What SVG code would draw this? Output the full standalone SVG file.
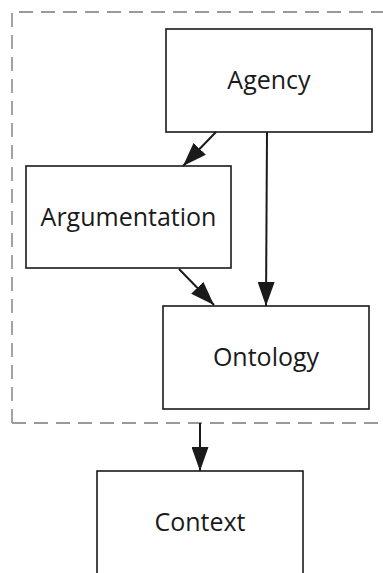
<svg xmlns="http://www.w3.org/2000/svg" width="383" height="573" viewBox="0 0 383 573">
  <style>
    .box { fill: #ffffff; stroke: #1a1a1a; stroke-width: 1.6; }
    .label { font-family: "Open Sans", "Liberation Sans", sans-serif; font-size: 25px; fill: #1a1a1a; text-anchor: middle; }
    .edge { stroke: #1a1a1a; stroke-width: 2; fill: none; marker-end: url(#arrow); }
    .frame { fill: none; stroke: #9a9a9a; stroke-width: 1.8; stroke-dasharray: 14 8; }
  </style>
  <defs>
    <marker id="arrow" viewBox="0 0 24 17" refX="24" refY="8.5" markerWidth="24" markerHeight="17" markerUnits="userSpaceOnUse" orient="auto">
      <path d="M0,0 L24,8.5 L0,17 Z" fill="#1a1a1a"/>
    </marker>
  </defs>

  <!-- dashed system boundary -->
  <path class="frame" d="M12,423 V12 H390"/>
  <path class="frame" d="M12,423 H390"/>

  <g id="agency">
    <rect class="box" x="166" y="29" width="206" height="103"/>
    <text class="label" x="269" y="89">Agency</text>
  </g>
  <g id="argumentation">
    <rect class="box" x="26" y="166" width="205" height="102"/>
    <text class="label" x="128.5" y="226">Argumentation</text>
  </g>
  <g id="ontology">
    <rect class="box" x="163" y="306" width="206" height="103"/>
    <text class="label" x="266" y="366">Ontology</text>
  </g>
  <g id="context">
    <rect class="box" x="97" y="471" width="206" height="110"/>
    <text class="label" x="200" y="531">Context</text>
  </g>

  <g id="connectors">
    <line class="edge" x1="216" y1="132" x2="183" y2="166"/>
    <line class="edge" x1="267" y1="132" x2="266" y2="306"/>
    <line class="edge" x1="179" y1="269" x2="214" y2="305"/>
    <line class="edge" x1="200" y1="423" x2="200" y2="471"/>
  </g>
</svg>
